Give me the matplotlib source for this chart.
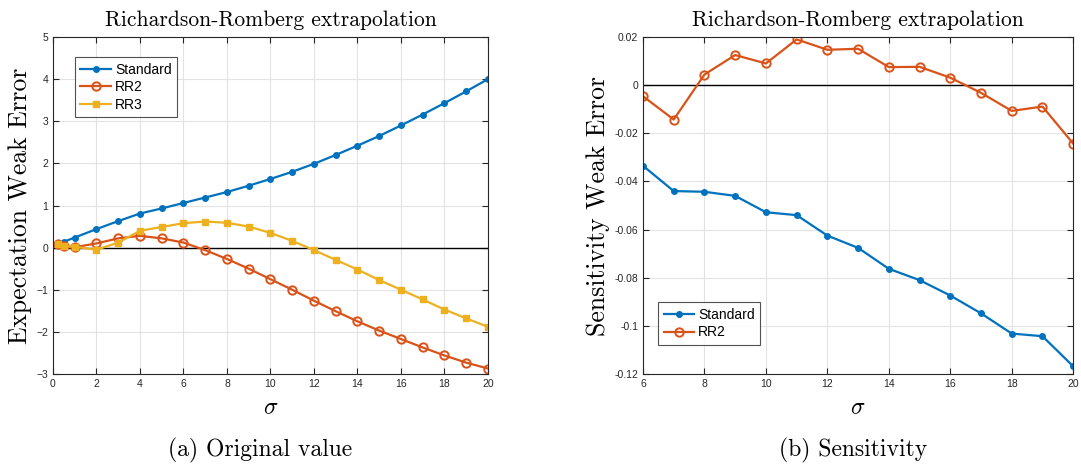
import matplotlib
matplotlib.use("Agg")
import matplotlib.pyplot as plt

# MATLAB default colours
BLUE = '#0072BD'
ORANGE = '#D95319'
YELLOW = '#EDB120'

# -----------------------
# DATA - (a) original value
sigma_a = [0.25, 0.5, 1, 2, 3, 4, 5, 6, 7, 8, 9, 10, 11, 12, 13, 14, 15, 16, 17, 18, 19, 20]
std_a = [0.10, 0.14, 0.24, 0.44, 0.63, 0.81, 0.93, 1.06, 1.19, 1.32, 1.47, 1.63,
         1.80, 1.99, 2.20, 2.42, 2.65, 2.90, 3.16, 3.43, 3.71, 4.00]
rr2_a = [0.09, 0.05, 0.01, 0.10, 0.22, 0.28, 0.22, 0.12, -0.06, -0.27, -0.50, -0.75,
         -1.00, -1.26, -1.51, -1.75, -1.97, -2.17, -2.37, -2.56, -2.73, -2.87]
rr3_a = [0.09, 0.04, 0.02, -0.05, 0.12, 0.40, 0.49, 0.58, 0.62, 0.59, 0.50, 0.35,
         0.16, -0.06, -0.29, -0.52, -0.77, -1.00, -1.23, -1.47, -1.68, -1.88]

# DATA - (b) sensitivity
sigma_b = [6, 7, 8, 9, 10, 11, 12, 13, 14, 15, 16, 17, 18, 19, 20]
std_b = [-0.0335, -0.0440, -0.0443, -0.0460, -0.0528, -0.0540, -0.0625, -0.0676,
         -0.0763, -0.0810, -0.0874, -0.0948, -0.1032, -0.1043, -0.1168]
rr2_b = [-0.0046, -0.0143, 0.0044, 0.0125, 0.0090, 0.0190, 0.0147, 0.0151,
         0.0075, 0.0076, 0.0031, -0.0032, -0.0107, -0.0089, -0.0243]

xticks_a = list(range(0, 21, 2))
yticks_a = list(range(-3, 6))
xticks_b = list(range(6, 21, 2))
yticks_b = [-0.12, -0.1, -0.08, -0.06, -0.04, -0.02, 0, 0.02]
ytlabels_b = ['-0.12', '-0.1', '-0.08', '-0.06', '-0.04', '-0.02', '0', '0.02']

plt.rcParams['font.family'] = ['Liberation Sans', 'DejaVu Sans']
plt.rcParams['mathtext.fontset'] = 'cm'
SERIF = 'cmr10'

fig = plt.figure(figsize=(10.81, 4.66), dpi=100)
ax1 = fig.add_axes([0.049, 0.1974, 0.4024, 0.7232])
ax2 = fig.add_axes([0.5948, 0.1974, 0.398, 0.7232])


def matlab_style(ax):
    ax.grid(True, color='#e3e3e3', linewidth=0.8)
    ax.set_axisbelow(True)
    ax.tick_params(direction='in', top=True, right=True, length=4,
                   labelsize=7.5, colors='#262626', width=0.8)
    for s in ax.spines.values():
        s.set_color('#262626')
        s.set_linewidth(0.8)
    ax.axhline(0, color='black', linewidth=1.0, zorder=1.5)


def add_legend(ax, loc, anchor):
    leg = ax.legend(loc=loc, bbox_to_anchor=anchor, borderaxespad=0, fontsize=10,
                    fancybox=False, edgecolor='#262626', handlelength=2.2,
                    borderpad=0.4, labelspacing=0.25, handletextpad=0.3)
    leg.get_frame().set_linewidth(0.8)


# (a)
matlab_style(ax1)
ax1.plot(sigma_a, std_a, '-o', color=BLUE, lw=1.6, ms=4, label='Standard')
ax1.plot(sigma_a, rr2_a, '-o', color=ORANGE, lw=1.6, ms=6, mfc='none', mew=1.4, label='RR2')
ax1.plot(sigma_a, rr3_a, '-s', color=YELLOW, lw=1.6, ms=4.5, label='RR3')
ax1.set_xlim(0, 20)
ax1.set_ylim(-3, 5)
ax1.set_xticks(xticks_a)
ax1.set_yticks(yticks_a)
ax1.set_title('Richardson-Romberg extrapolation', family=SERIF, fontsize=15.5, pad=8)
ax1.set_ylabel('Expectation Weak Error', family=SERIF, fontsize=18.5, labelpad=3)
ax1.set_xlabel(r'$\sigma$', fontsize=17, labelpad=6)
add_legend(ax1, 'upper left', (0.05, 0.94))

# (b)
matlab_style(ax2)
ax2.plot(sigma_b, std_b, '-o', color=BLUE, lw=1.6, ms=4, label='Standard')
ax2.plot(sigma_b, rr2_b, '-o', color=ORANGE, lw=1.6, ms=6, mfc='none', mew=1.4, label='RR2')
ax2.set_xlim(6, 20)
ax2.set_ylim(-0.12, 0.02)
ax2.set_xticks(xticks_b)
ax2.set_yticks(yticks_b)
ax2.set_yticklabels(ytlabels_b)
ax2.set_title('Richardson-Romberg extrapolation', family=SERIF, fontsize=15.5, pad=8)
ax2.set_ylabel('Sensitivity Weak Error', family=SERIF, fontsize=18.5, labelpad=3)
ax2.set_xlabel(r'$\sigma$', fontsize=17, labelpad=6)
add_legend(ax2, 'lower left', (0.035, 0.086))

# captions
fig.text(0.2405, 0.02, '(a) Original value', family=SERIF, fontsize=17,
         ha='center', va='baseline')
fig.text(0.789, 0.02, '(b) Sensitivity', family=SERIF, fontsize=17,
         ha='center', va='baseline')

fig.savefig('out.png', dpi=100)
